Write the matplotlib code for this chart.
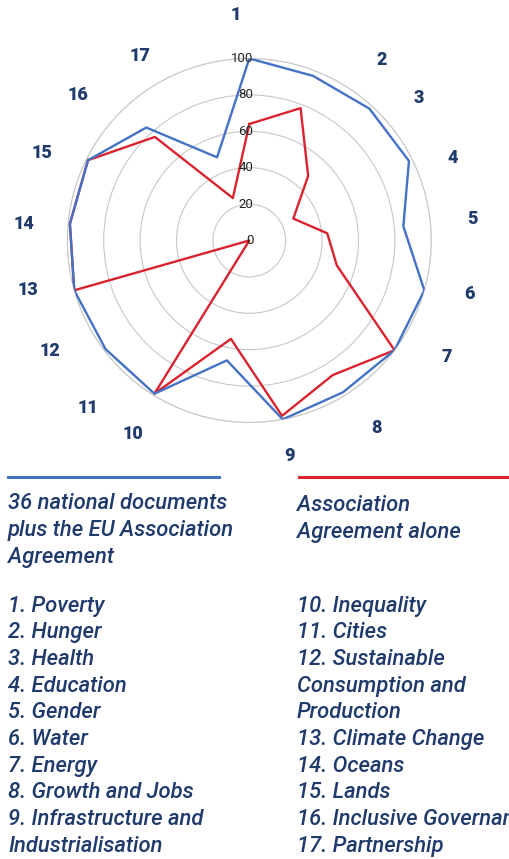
import numpy as np
import matplotlib
matplotlib.use("Agg")
import matplotlib.pyplot as plt
from matplotlib.lines import Line2D
from matplotlib.transforms import offset_copy

# SDG coverage scores (0-100)
goals = [str(i) for i in range(1, 18)]
national_plus_aa = [100, 97, 98, 98, 85, 100, 100, 98, 100, 67, 99, 99, 100, 99, 99, 84, 49]
aa_alone = [64, 78, 48, 27, 43, 50, 100, 87, 98, 55, 99, 0, 100, 99, 99, 77, 25]
ring_ticks = [0, 20, 40, 60, 80, 100]

series_names = ["36 national documents\nplus the EU Association\nAgreement",
                "Association\nAgreement alone"]
goal_names_left = ["1. Poverty", "2. Hunger", "3. Health", "4. Education", "5. Gender",
                   "6. Water", "7. Energy", "8. Growth and Jobs",
                   "9. Infrastructure and\nIndustrialisation"]
goal_names_right = ["10. Inequality", "11. Cities",
                    "12. Sustainable\nConsumption and\nProduction",
                    "13. Climate Change", "14. Oceans", "15. Lands",
                    "16. Inclusive Governance", "17. Partnership"]

BLUE = "#4472c4"
RED = "#d9232e"
NAVY = "#1f3a6b"
W, H = 510, 859

# goal number label positions (pixels, hand placed like the original)
label_xy = [(236, 15), (382, 60), (419, 98), (453, 158), (473, 219), (470, 294),
            (447, 357), (376, 428), (290, 456), (133, 434), (88, 408), (50, 351),
            (28, 290), (24, 224), (42, 153), (78, 95), (140, 56)]

fig = plt.figure(figsize=(W / 100, H / 100), dpi=100)

cx, cy, rad = 249.3, 240.5, 182
ax = fig.add_axes([(cx - rad) / W, (H - cy - rad) / H, 2 * rad / W, 2 * rad / H],
                  projection="polar")
ax.set_theta_zero_location("N")
ax.set_theta_direction(-1)

theta = np.linspace(0, 2 * np.pi, len(goals), endpoint=False)
th = np.append(theta, theta[0])
ax.plot(th, aa_alone + aa_alone[:1], color=RED, lw=1.7, zorder=3)
ax.plot(th, national_plus_aa + national_plus_aa[:1], color=BLUE, lw=1.7, zorder=4)

ax.set_ylim(0, 100)
ax.set_yticks(ring_ticks[1:])
ax.set_yticklabels([])
ax.set_xticks([])
ax.yaxis.grid(True, color="#c8c8c8", lw=0.8)
ax.spines["polar"].set_color("#c8c8c8")
ax.spines["polar"].set_linewidth(0.8)

off = offset_copy(ax.transData, fig=fig, x=4, y=0, units="dots")
for r in ring_ticks:
    ax.text(0, r, str(r), transform=off, ha="right", va="center",
            fontsize=9.5, color="#222222", family="Roboto", zorder=5)

for g, (x, y) in zip(goals, label_xy):
    fig.text(x / W, 1 - y / H, g, ha="center", va="center", fontsize=13,
             fontweight="heavy", color=NAVY, family="Roboto")

# legend lines
fig.add_artist(Line2D([8 / W, 219 / W], [1 - 477.3 / H] * 2, color=BLUE, lw=2.2,
                      transform=fig.transFigure))
fig.add_artist(Line2D([299 / W, 1.0], [1 - 477.3 / H] * 2, color=RED, lw=2.2,
                      transform=fig.transFigure))

step = 26.67

def column(x, y0, lines):
    for i, line in enumerate(lines):
        fig.text(x / W, 1 - (y0 + i * step) / H, line, ha="left", va="baseline",
                 fontsize=15.8, style="italic", fontweight="medium", color=NAVY,
                 family="Roboto")

column(8, 509.3, series_names[0].split("\n"))
column(297, 511, series_names[1].split("\n"))
column(8, 611.7, "\n".join(goal_names_left).split("\n"))
column(297, 611.7, "\n".join(goal_names_right).split("\n"))

fig.savefig("out.png", dpi=100)
